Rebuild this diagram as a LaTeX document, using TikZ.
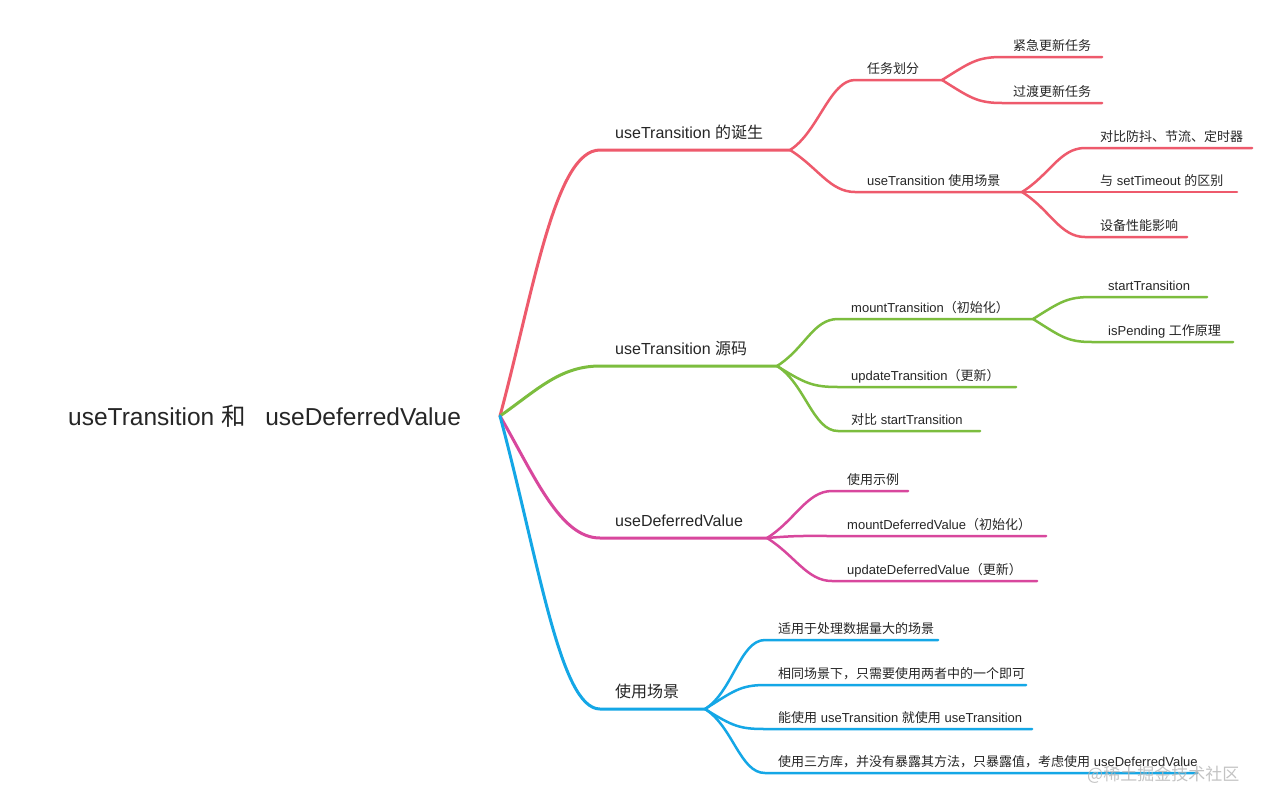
\documentclass[tikz,border=0pt]{standalone}
\usepackage{fontspec}
\setmainfont{Liberation Sans}
\newfontfamily\cjk{Noto Sans CJK SC}
\newcommand{\zh}[1]{{\cjk #1}}
\definecolor{cred}{HTML}{EE5A6C}
\definecolor{cgreen}{HTML}{7CBD3E}
\definecolor{cmag}{HTML}{D8479D}
\definecolor{cblue}{HTML}{14A7E6}
\definecolor{txt}{HTML}{262626}
\definecolor{wm}{HTML}{B4B4B4}
\begin{document}
\begin{tikzpicture}[x=1pt,y=1pt,
  t0/.style={anchor=base west, inner sep=0pt, text=txt, font=\fontsize{24.5}{28}\selectfont},
  t1/.style={anchor=base west, inner sep=0pt, text=txt, font=\fontsize{16}{19}\selectfont},
  t2/.style={anchor=base west, inner sep=0pt, text=txt, font=\fontsize{13}{16}\selectfont},
  b1/.style={line width=3pt, line cap=round},
  b2/.style={line width=2.5pt, line cap=round},
  up/.style={out=32, in=180, out distance=33pt, in distance=25pt},
  dn/.style={out=-32, in=180, out distance=33pt, in distance=25pt}]
\useasboundingbox (0,0) rectangle (1281,-806);
\fill[white] (0,0) rectangle (1281,-806);

% root
\node[t0] (root) at (68,-425) {useTransition \zh{和}\hspace{0.8em}useDeferredValue};
\coordinate (R) at (500,-416);

% level 1 coordinates
\coordinate (As) at (600,-150); \coordinate (Ae) at (790,-150);
\coordinate (Bs) at (600,-366); \coordinate (Be) at (777,-366);
\coordinate (Cs) at (600,-538); \coordinate (Ce) at (767,-538);
\coordinate (Ds) at (600,-709); \coordinate (De) at (705,-709);

\node[t1] (A) at (615,-138) {useTransition \zh{的诞生}};
\node[t1] (B) at (615,-354) {useTransition \zh{源码}};
\node[t1] (C) at (615,-526) {useDeferredValue};
\node[t1] (D) at (615,-697) {\zh{使用场景}};

\draw[b1,cred]   (R) to[out=75, in=180, out distance=130pt, in distance=45pt] (As) -- (Ae);
\draw[b1,cgreen] (R) to[out=35, in=180, out distance=45pt, in distance=40pt] (Bs) -- (Be);
\draw[b1,cmag]   (R) to[out=-60, in=180, out distance=70pt, in distance=40pt] (Cs) -- (Ce);
\draw[b1,cblue]  (R) to[out=-75, in=180, out distance=150pt, in distance=40pt] (Ds) -- (De);

% red level 2
\coordinate (A1s) at (855,-80);  \coordinate (A1e) at (942,-80);
\coordinate (A2s) at (855,-192); \coordinate (A2e) at (1022,-192);
\node[t2] (A1) at (867,-73) {\zh{任务划分}};
\node[t2] (A2) at (867,-185) {useTransition \zh{使用场景}};
\draw[b2,cred] (Ae) to[up] (A1s) -- (A1e);
\draw[b2,cred] (Ae) to[dn] (A2s) -- (A2e);

\coordinate (A11s) at (1002,-57);  \coordinate (A11e) at (1102,-57);
\coordinate (A12s) at (1002,-103); \coordinate (A12e) at (1102,-103);
\node[t2] (A11) at (1013,-50) {\zh{紧急更新任务}};
\node[t2] (A12) at (1013,-96) {\zh{过渡更新任务}};
\draw[b2,cred] (A1e) to[up] (A11s) -- (A11e);
\draw[b2,cred] (A1e) to[dn] (A12s) -- (A12e);

\coordinate (A21s) at (1085,-148); \coordinate (A21e) at (1252,-148);
\coordinate (A22s) at (1085,-192); \coordinate (A22e) at (1237,-192);
\coordinate (A23s) at (1085,-237); \coordinate (A23e) at (1187,-237);
\node[t2] (A21) at (1100,-141) {\zh{对比防抖、节流、定时器}};
\node[t2] (A22) at (1100,-185) {\zh{与} setTimeout \zh{的区别}};
\node[t2] (A23) at (1100,-230) {\zh{设备性能影响}};
\draw[b2,cred] (A2e) to[up] (A21s) -- (A21e);
\draw[b2,cred] (A2e) -- (A22s) -- (A22e);
\draw[b2,cred] (A2e) to[dn] (A23s) -- (A23e);

% green level 2
\coordinate (B1s) at (838,-319); \coordinate (B1e) at (1033,-319);
\coordinate (B2s) at (838,-387); \coordinate (B2e) at (1016,-387);
\coordinate (B3s) at (838,-431); \coordinate (B3e) at (980,-431);
\node[t2] (B1) at (851,-312) {mountTransition\zh{（初始化）}};
\node[t2] (B2) at (851,-380) {updateTransition\zh{（更新）}};
\node[t2] (B3) at (851,-424) {\zh{对比} startTransition};
\draw[b2,cgreen] (Be) to[up] (B1s) -- (B1e);
\draw[b2,cgreen] (Be) to[dn] (B2s) -- (B2e);
\draw[b2,cgreen] (Be) to[dn] (B3s) -- (B3e);

\coordinate (B11s) at (1092,-297); \coordinate (B11e) at (1207,-297);
\coordinate (B12s) at (1092,-342); \coordinate (B12e) at (1233,-342);
\node[t2] (B11) at (1108,-290) {startTransition};
\node[t2] (B12) at (1108,-335) {isPending \zh{工作原理}};
\draw[b2,cgreen] (B1e) to[up] (B11s) -- (B11e);
\draw[b2,cgreen] (B1e) to[dn] (B12s) -- (B12e);

% magenta level 2
\coordinate (C1s) at (832,-491); \coordinate (C1e) at (908,-491);
\coordinate (C2s) at (832,-536); \coordinate (C2e) at (1046,-536);
\coordinate (C3s) at (832,-581); \coordinate (C3e) at (1037,-581);
\node[t2] (C1) at (847,-484) {\zh{使用示例}};
\node[t2] (C2) at (847,-529) {mountDeferredValue\zh{（初始化）}};
\node[t2] (C3) at (847,-574) {updateDeferredValue\zh{（更新）}};
\draw[b2,cmag] (Ce) to[up] (C1s) -- (C1e);
\draw[b2,cmag] (Ce) to[out=5,in=180,out distance=30pt,in distance=25pt] (C2s) -- (C2e);
\draw[b2,cmag] (Ce) to[dn] (C3s) -- (C3e);

% blue level 2
\coordinate (D1s) at (765,-640); \coordinate (D1e) at (938,-640);
\coordinate (D2s) at (765,-685); \coordinate (D2e) at (1026,-685);
\coordinate (D3s) at (765,-729); \coordinate (D3e) at (1032,-729);
\coordinate (D4s) at (765,-773); \coordinate (D4e) at (1197,-773);
\node[t2] (D1) at (778,-633) {\zh{适用于处理数据量大的场景}};
\node[t2] (D2) at (778,-678) {\zh{相同场景下，只需要使用两者中的一个即可}};
\node[t2] (D3) at (778,-722) {\zh{能使用} useTransition \zh{就使用} useTransition};
\node[t2] (D4) at (778,-766) {\zh{使用三方库，并没有暴露其方法，只暴露值，考虑使用} useDeferredValue};
\draw[b2,cblue] (De) to[up] (D1s) -- (D1e);
\draw[b2,cblue] (De) to[up] (D2s) -- (D2e);
\draw[b2,cblue] (De) to[dn] (D3s) -- (D3e);
\draw[b2,cblue] (De) to[dn] (D4s) -- (D4e);

% watermark
\node[anchor=base west, inner sep=0pt, text=wm, text opacity=0.8, font=\fontsize{17}{20}\selectfont] (wmk) at (1087,-780) {\zh{@稀土掘金技术社区}};
\end{tikzpicture}
\end{document}
